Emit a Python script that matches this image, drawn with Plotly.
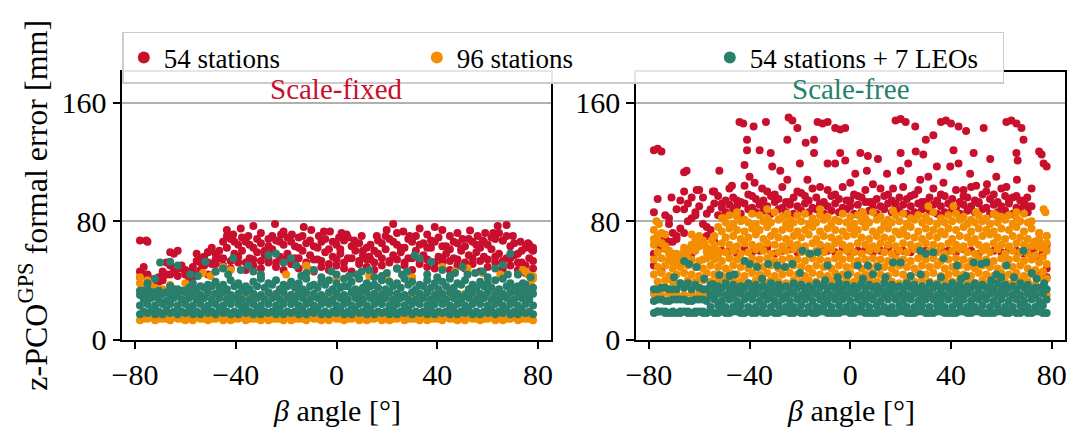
import plotly.graph_objects as go

# beta angle sampling (two interleaved grids)
BETA_A = [-78, -75, -72, -69, -66, -63, -60, -57, -54, -51,
          -48, -45, -42, -39, -36, -33, -30, -27, -24, -21,
          -18, -15, -12, -9, -6, -3, 0, 3, 6, 9,
          12, 15, 18, 21, 24, 27, 30, 33, 36, 39,
          42, 45, 48, 51, 54, 57, 60, 63, 66, 69,
          72, 75, 78]
BETA_B = [-76.5, -73.5, -70.5, -67.5, -64.5, -61.5, -58.5, -55.5, -52.5, -49.5,
          -46.5, -43.5, -40.5, -37.5, -34.5, -31.5, -28.5, -25.5, -22.5, -19.5,
          -16.5, -13.5, -10.5, -7.5, -4.5, -1.5, 1.5, 4.5, 7.5, 10.5,
          13.5, 16.5, 19.5, 22.5, 25.5, 28.5, 31.5, 34.5, 37.5, 40.5,
          43.5, 46.5, 49.5, 52.5, 55.5, 58.5, 61.5, 64.5, 67.5, 70.5,
          73.5, 76.5]

# ---------------- Scale-fixed ----------------
FIX_RED_1 = [46, 43, 38, 40, 44, 48, 45, 42, 47, 44,
             46, 50, 48, 52, 47, 50, 48, 52, 49, 47,
             51, 48, 50, 46, 49, 47, 50, 48, 46, 51,
             49, 47, 50, 52, 48, 50, 47, 51, 49, 48,
             52, 47, 50, 48, 51, 46, 49, 52, 48, 50,
             47, 45, 48]
FIX_RED_2 = [49, 40, 39, 52, 58, 50, 41, 53, 56, 51,
             55, 62, 58, 60, 55, 59, 57, 61, 56, 58,
             55, 60, 57, 54, 59, 56, 58, 55, 60, 57,
             54, 58, 61, 57, 59, 55, 60, 57, 62, 56,
             58, 55, 60, 57, 59, 56, 61, 58, 55, 57,
             52, 55]
FIX_RED_3 = [67, 66, 40, 42, 59, 60, 44, 46, 52, 59,
             54, 66, 68, 64, 66, 62, 65, 63, 67, 64,
             66, 62, 65, 63, 66, 61, 64, 67, 63, 65,
             62, 60, 65, 68, 64, 62, 66, 64, 62, 66,
             63, 61, 65, 63, 66, 62, 64, 68, 67, 63,
             58, 62, 60]
FIX_RED_4 = [44, 40, 42, 44, 46, 48, 45, 58, 50, 62,
             60, 70, 66, 69, 64, 68, 60, 70, 66, 69,
             63, 70, 67, 62, 68, 66, 61, 69, 65, 60,
             64, 67, 70, 66, 62, 68, 70, 65, 67, 69,
             63, 66, 61, 68, 64, 66, 69, 72, 70, 65,
             60, 64]
FIX_RED_5 = [42, 44, 41, 46, 50, 43, 47, 49, 55, 52,
             51, 55, 53, 56, 52, 54, 53, 55, 52, 54,
             53, 55, 52, 54, 53, 51, 54, 52, 55, 53,
             54, 52, 55, 53, 54, 52, 55, 53, 54, 52,
             55, 53, 54, 52, 55, 53, 54, 56, 53, 55,
             52, 50, 53]
FIX_RED_SC_BETA = [-75.5, -43.5, -41, -38, -35, -33, -30, -24.4, -22, -21,
                   -17.7, -15, -13, -10, -7, -5, -2.6, 1, 4, 7,
                   10, 13, 16, 19.9, 22.5, 24, 26.5, 29, 33, 36,
                   39, 42, 45, 48, 50, 53, 56, 59, 62.2, 64,
                   67.5, 66, 70, 73, 76, 77.4, 78, -48, -51, -27,
                   2, 30, 58]
FIX_RED_SC_VAL = [67, 74, 71, 75, 70, 76.7, 72, 78, 71, 73,
                  71, 69, 76, 74, 70, 73, 73, 69, 71, 67,
                  70, 56, 70, 74, 78, 72, 73, 70, 75, 71,
                  76, 74, 70, 72, 68, 73.6, 70, 72, 72, 76.7,
                  77.4, 67, 70, 66, 65, 61, 62, 58, 59, 68,
                  72, 68, 67]

FIX_ORANGE_1 = [13, 14, 13, 14, 13, 14, 13, 13, 14, 13,
                14, 13, 13, 14, 13, 14, 13, 13, 14, 13,
                13, 14, 13, 14, 13, 13, 14, 13, 14, 13,
                13, 14, 13, 13, 14, 13, 14, 13, 13, 14,
                13, 14, 13, 13, 14, 13, 14, 13, 13, 14,
                13, 14, 13]
FIX_ORANGE_2 = [14, 15, 14, 14, 15, 14, 14, 15, 14, 14,
                15, 14, 14, 15, 14, 14, 15, 14, 14, 15,
                14, 14, 15, 14, 14, 15, 14, 14, 15, 14,
                14, 15, 14, 14, 15, 14, 14, 15, 14, 14,
                15, 14, 14, 15, 14, 14, 15, 14, 14, 15,
                14, 14]
FIX_ORANGE_3 = [38, 40, 35, 33, 36, 30, 28, 31, 29, 30,
                31, 29, 30, 28, 31, 30, 29, 31, 30, 28,
                30, 31, 29, 30, 28, 31, 30, 29, 31, 30,
                29, 30, 31, 28, 30, 29, 31, 30, 28, 30,
                31, 29, 30, 31, 28, 30, 29, 31, 30, 29,
                44, 46, 43]
FIX_ORANGE_SC_BETA = [-78, -76.5, -77, -74, -69, -66, -60, -53, -50, -45,
                      -42, -30, -20, -12, -10, 0, 13, 20, 30, 42,
                      47, 52, 58, 65, 74, 76, 78, 77, 75]
FIX_ORANGE_SC_VAL = [42, 36, 30, 38, 34, 37, 38, 45, 43, 49,
                     47, 42, 44, 50, 47, 41, 43, 41, 42, 49,
                     46, 48, 45, 44, 47, 44, 41, 38, 36]

FIX_TEAL_1 = [17, 18, 17, 17, 18, 17, 18, 17, 17, 18,
              17, 18, 17, 17, 18, 17, 17, 18, 17, 17,
              18, 17, 17, 18, 17, 17, 18, 17, 17, 18,
              17, 17, 18, 17, 17, 18, 17, 18, 17, 17,
              18, 17, 17, 18, 17, 17, 18, 17, 18, 17,
              17, 18, 17]
FIX_TEAL_2 = [19, 20, 19, 20, 19, 19, 20, 19, 20, 19,
              20, 19, 19, 20, 19, 20, 19, 19, 20, 19,
              19, 20, 19, 20, 19, 19, 20, 19, 20, 19,
              20, 19, 19, 20, 19, 20, 19, 19, 20, 19,
              19, 20, 19, 20, 19, 19, 20, 19, 20, 19,
              20, 19]
FIX_TEAL_3 = [23, 24, 23, 24, 24, 23, 24, 23, 24, 23,
              24, 23, 24, 24, 23, 24, 23, 24, 23, 24,
              24, 23, 24, 23, 24, 24, 23, 24, 23, 24,
              23, 24, 24, 23, 24, 23, 24, 24, 23, 24,
              24, 23, 24, 23, 24, 24, 23, 24, 23, 24,
              23, 24, 23]
FIX_TEAL_4 = [27, 28, 27, 26, 28, 27, 28, 27, 28, 27,
              28, 27, 28, 27, 27, 28, 27, 28, 27, 28,
              27, 28, 27, 28, 27, 27, 28, 27, 28, 27,
              28, 27, 28, 27, 28, 27, 27, 28, 27, 28,
              27, 28, 27, 28, 27, 28, 27, 27, 28, 27,
              28, 27]
FIX_TEAL_5 = [30, 29, 30, 31, 30, 31, 32, 31, 30, 32,
              31, 32, 30, 31, 32, 31, 30, 32, 31, 32,
              30, 31, 32, 31, 30, 32, 31, 30, 32, 31,
              32, 31, 30, 32, 31, 30, 32, 31, 32, 30,
              31, 32, 31, 30, 32, 31, 32, 30, 31, 32,
              31, 30, 31]
FIX_TEAL_6 = [33, 32, 33, 32, 34, 33, 35, 34, 35, 36,
              35, 34, 36, 35, 34, 36, 35, 37, 34, 36,
              35, 34, 36, 35, 37, 34, 35, 36, 34, 35,
              36, 35, 34, 36, 35, 37, 34, 36, 35, 34,
              36, 35, 37, 34, 35, 36, 35, 34, 36, 35,
              34, 33]
FIX_TEAL_7 = [33, 34, 32, 31, 36, 34, 33, 38, 36, 37,
              39, 37, 40, 38, 36, 39, 41, 38, 40, 37,
              39, 38, 41, 37, 39, 40, 38, 36, 39, 41,
              38, 37, 40, 39, 38, 41, 39, 37, 40, 38,
              39, 41, 38, 40, 37, 39, 38, 40, 41, 38,
              36, 37, 35]
FIX_TEAL_SC_BETA = [-75, -72, -70, -66, -63, -58, -52, -48, -45, -41,
                    -38, -35, -30, -27, -24, -21, -18, -16, -12, -9,
                    -6, 0, 5, 10, 15, 20, 24, 26, 31, 33,
                    37.6, 42, 47, 50, 52, 58, 63, 66, 69, 72,
                    74, 77, -55, -43, -33, -14, -2, 3, 8, 13,
                    18, 28, 36, 40, 45, 55, 60, 68]
FIX_TEAL_SC_VAL = [38, 41, 52, 52.6, 50, 44, 52.6, 46, 48, 55,
                   47, 50, 44, 57, 58, 52, 55, 50, 45, 47,
                   42, 44, 43, 46, 42, 45, 48, 44, 57, 55,
                   52.6, 47, 45, 49, 44, 46, 48, 50.4, 58, 44,
                   38, 42, 43, 44, 46, 43, 46, 41, 44, 47,
                   43, 46, 44, 42, 43, 45, 42, 44]

# ---------------- Scale-free ----------------
FREE_RED_1 = [50, 46, 66, 68, 72, 58, 65, 70, 66, 60,
              60, 58, 61, 59, 60, 62, 58, 60, 61, 59,
              60, 58, 61, 60, 59, 62, 58, 60, 61, 59,
              60, 62, 58, 60, 59, 61, 60, 58, 62, 60,
              59, 61, 60, 58, 62, 60, 59, 61, 60, 58,
              62, 55, 48]
FREE_RED_2 = [95, 68, 72, 75, 80, 84, 78, 74, 84, 86,
              87, 85, 88, 86, 87, 85, 88, 86, 85, 87,
              86, 88, 85, 87, 86, 88, 85, 86, 87, 85,
              88, 86, 87, 85, 86, 88, 87, 85, 86, 88,
              85, 87, 86, 88, 85, 86, 87, 85, 88, 86,
              66, 60]
FREE_RED_3 = [86, 62, 78, 70, 88, 82, 90, 76, 92, 89,
              91, 90, 92, 89, 91, 90, 93, 89, 91, 90,
              92, 89, 91, 90, 92, 89, 90, 91, 93, 89,
              90, 92, 89, 91, 90, 92, 89, 91, 90, 92,
              89, 91, 90, 92, 89, 91, 90, 93, 89, 91,
              90, 66, 64]
FREE_RED_4 = [64, 84, 66, 94, 92, 86, 96, 88, 97, 94,
              96, 93, 98, 95, 94, 97, 95, 93, 96, 99,
              94, 96, 93, 97, 95, 94, 98, 96, 93, 95,
              97, 94, 96, 95, 98, 93, 96, 94, 97, 95,
              93, 96, 94, 98, 95, 93, 97, 96, 94, 90,
              62, 58]
FREE_RED_5 = [58, 70, 82, 88, 100, 96, 101, 85, 100, 92,
              102, 94, 104, 97, 92, 100, 98, 103, 93, 100,
              97, 102, 92, 101, 98, 103, 94, 97, 101, 93,
              102, 98, 92, 103, 97, 101, 93, 102, 98, 92,
              101, 97, 103, 93, 100, 98, 102, 92, 97, 94,
              60, 44, 42]
FREE_RED_SC_BETA = [-44, -42.5, -38.4, -33.5, -24.5, -23, -21, -13, -11, -9,
                    -6, -4, -2, 18, 20, 22, 25.8, 36, 38, 40,
                    43, 46, 53, 62, 64, 66, 68, 68.8,
                    -78, -76.5, -75, -41, -41, -36, -31.6, -25, -17.7, -14.4,
                    -14.4, -4, 4, 7, 11, 20, 26, 29, 30, 33,
                    41, 49, 55.6, 66, 66.5, 75, 76, 76.8, 78,
                    -65, -66, -61, -54.6, -52, -42, -40, -38, -31, -27.8,
                    -25, -20, -17, -9, -6, -2, 2, 6.6, 9, 14.6,
                    20, 23, 27.8, 31, 34.4, 37, 39.7, 43, 47.6, 50,
                    54.3, 58, 62, 66.2, 70.3, 72, -47, -35, -12, 0,
                    17, 45, -71]
FREE_RED_SC_VAL = [147, 146, 144, 147, 150, 148, 143, 147, 146, 147,
                   143, 142, 143, 148, 149, 147, 144, 147, 148, 146,
                   144, 141, 143, 147, 148, 146, 143, 135,
                   128, 129, 127, 135, 128, 128, 126, 135, 133, 135,
                   126, 126, 126, 124, 122, 126, 127, 125, 135, 138,
                   128, 126, 122, 126, 121, 127, 125, 119, 117,
                   114, 113, 101, 100, 114, 118, 110, 106, 117, 114,
                   108, 119, 108, 119, 119, 121, 112, 114, 105, 112,
                   114, 119, 108, 110, 117, 106, 117, 119, 112, 104,
                   105, 110, 103, 108, 96, 102, 104, 102, 103, 106,
                   102, 101, 96]

FREE_ORANGE_1 = [31, 30, 31, 31, 30, 31, 31, 30, 31, 31,
                 30, 31, 31, 30, 31, 31, 30, 31, 31, 30,
                 31, 31, 30, 31, 31, 30, 31, 31, 30, 31,
                 31, 30, 31, 31, 30, 31, 31, 30, 31, 31,
                 30, 31, 31, 30, 31, 31, 30, 31, 31, 30,
                 31, 31, 30]
FREE_ORANGE_2 = [39, 40, 39, 38, 40, 39, 40, 39, 40, 39,
                 40, 39, 38, 40, 39, 40, 39, 38, 40, 39,
                 40, 39, 38, 40, 39, 40, 39, 38, 40, 39,
                 40, 39, 38, 40, 39, 40, 39, 38, 40, 39,
                 40, 39, 38, 40, 39, 40, 39, 38, 40, 39,
                 37, 36]
FREE_ORANGE_3 = [44, 45, 43, 44, 45, 44, 43, 45, 44, 43,
                 45, 44, 43, 45, 44, 45, 43, 44, 45, 44,
                 43, 45, 44, 43, 45, 44, 45, 43, 44, 45,
                 44, 43, 45, 44, 43, 45, 44, 45, 43, 44,
                 45, 44, 43, 45, 44, 43, 45, 44, 45, 43,
                 44, 42, 41]
FREE_ORANGE_4 = [49, 50, 48, 49, 50, 49, 48, 50, 49, 48,
                 50, 49, 48, 50, 49, 50, 48, 49, 50, 49,
                 48, 50, 49, 48, 50, 49, 50, 48, 49, 50,
                 49, 48, 50, 49, 48, 50, 49, 50, 48, 49,
                 50, 49, 48, 50, 49, 48, 50, 49, 50, 48,
                 47, 46]
FREE_ORANGE_5 = [54, 55, 53, 54, 55, 54, 53, 55, 54, 53,
                 55, 54, 53, 55, 54, 55, 53, 54, 55, 54,
                 53, 55, 54, 53, 55, 54, 55, 53, 54, 55,
                 54, 53, 55, 54, 53, 55, 54, 55, 53, 54,
                 55, 54, 53, 55, 54, 53, 55, 54, 55, 53,
                 54, 52, 51]
FREE_ORANGE_6 = [59, 61, 58, 57, 59, 60, 54, 58, 60, 59,
                 60, 58, 59, 61, 60, 58, 59, 60, 61, 59,
                 58, 60, 59, 61, 58, 60, 59, 58, 60, 61,
                 59, 58, 60, 59, 61, 58, 60, 59, 58, 60,
                 61, 59, 58, 60, 59, 61, 58, 60, 59, 58,
                 57, 56]
FREE_ORANGE_7 = [64, 65, 60, 58, 62, 64, 63, 62, 64, 65,
                 64, 63, 65, 64, 63, 65, 64, 63, 65, 64,
                 63, 65, 64, 63, 65, 64, 63, 65, 64, 63,
                 65, 64, 63, 65, 64, 63, 65, 64, 63, 65,
                 64, 63, 65, 64, 63, 65, 64, 63, 65, 64,
                 63, 62, 60]
FREE_ORANGE_8 = [70, 71, 56, 55, 59, 68, 67, 60, 57, 69,
                 70, 68, 69, 71, 68, 70, 69, 68, 70, 69,
                 71, 68, 70, 69, 68, 70, 71, 69, 68, 70,
                 69, 68, 71, 70, 69, 68, 70, 69, 71, 68,
                 70, 69, 68, 70, 71, 69, 68, 70, 69, 68,
                 66, 64]
FREE_ORANGE_9 = [74, 72, 58, 54, 57, 71, 70, 60, 62, 73,
                 75, 74, 73, 75, 74, 76, 73, 74, 75, 73,
                 74, 76, 73, 75, 74, 73, 75, 74, 76, 73,
                 74, 75, 73, 74, 76, 73, 75, 74, 73, 75,
                 74, 76, 73, 75, 74, 73, 75, 74, 76, 73,
                 75, 68, 65]
FREE_ORANGE_10 = [66, 63, 52, 53, 61, 65, 64, 58, 76, 79,
                  78, 80, 79, 78, 80, 79, 81, 78, 79, 80,
                  78, 79, 81, 78, 80, 79, 78, 80, 79, 81,
                  78, 79, 80, 78, 81, 79, 80, 78, 79, 80,
                  81, 78, 79, 80, 78, 79, 81, 78, 80, 79,
                  64, 62]
FREE_ORANGE_11 = [68, 65, 54, 52, 60, 62, 66, 59, 70, 82,
                  84, 83, 81, 85, 84, 82, 86, 83, 81, 84,
                  85, 82, 84, 83, 81, 85, 83, 84, 82, 86,
                  83, 81, 84, 85, 82, 84, 83, 86, 82, 84,
                  85, 83, 81, 84, 82, 85, 83, 84, 82, 85,
                  80, 72, 70]
FREE_ORANGE_SC_BETA = [-77, -76, -45, -33, -25, -12, 5, 17, 31, 41,
                       50, 58, 66, 76.8, 77.5, -55, -58, -50, 78, 75]
FREE_ORANGE_SC_VAL = [80, 78, 86, 88, 85, 88, 86, 87, 90, 90,
                      86, 84, 86, 88, 86, 67, 65, 82, 70, 72]

FREE_TEAL_1 = [18, 19, 18, 18, 19, 18, 19, 18, 18, 19,
               18, 19, 18, 18, 19, 18, 18, 19, 18, 19,
               18, 18, 19, 18, 18, 19, 18, 19, 18, 18,
               19, 18, 18, 19, 18, 19, 18, 18, 19, 18,
               18, 19, 18, 19, 18, 18, 19, 18, 18, 19,
               18, 19, 18]
FREE_TEAL_2 = [19, 18, 19, 18, 18, 19, 18, 19, 18, 18,
               19, 18, 19, 18, 18, 19, 18, 19, 18, 18,
               19, 18, 19, 18, 18, 19, 18, 19, 18, 18,
               19, 18, 19, 18, 18, 19, 18, 19, 18, 18,
               19, 18, 19, 18, 18, 19, 18, 19, 18, 18,
               19, 18]
FREE_TEAL_3 = [19, 19, 18, 19, 19, 18, 19, 22, 23, 22,
               22, 23, 22, 22, 23, 22, 23, 22, 22, 23,
               22, 22, 23, 22, 23, 22, 22, 23, 22, 23,
               22, 22, 23, 22, 22, 23, 22, 23, 22, 22,
               23, 22, 22, 23, 22, 23, 22, 22, 23, 22,
               22, 23]
FREE_TEAL_4 = [26, 27, 26, 27, 27, 26, 27, 26, 27, 26,
               27, 26, 27, 27, 26, 27, 26, 27, 26, 27,
               27, 26, 27, 26, 27, 27, 26, 27, 26, 27,
               26, 27, 27, 26, 27, 26, 27, 27, 26, 27,
               26, 27, 26, 27, 27, 26, 27, 26, 27, 26,
               27, 26, 27]
FREE_TEAL_5 = [27, 26, 27, 27, 26, 27, 27, 30, 31, 30,
               30, 31, 30, 31, 30, 30, 31, 30, 31, 30,
               30, 31, 30, 30, 31, 30, 31, 30, 30, 31,
               30, 31, 30, 30, 31, 30, 31, 30, 30, 31,
               30, 31, 30, 30, 31, 30, 31, 30, 30, 31,
               30, 31]
FREE_TEAL_6 = [34, 35, 34, 34, 35, 34, 35, 34, 34, 35,
               34, 34, 35, 34, 35, 34, 34, 35, 34, 35,
               34, 34, 35, 34, 35, 34, 34, 35, 34, 35,
               34, 34, 35, 34, 35, 34, 34, 35, 34, 35,
               34, 34, 35, 34, 35, 34, 34, 35, 34, 35,
               34, 35, 34]
FREE_TEAL_7 = [34, 35, 34, 38, 38, 37, 34, 37, 36, 38,
               37, 36, 38, 37, 36, 38, 37, 36, 38, 37,
               36, 38, 37, 36, 38, 37, 36, 38, 37, 36,
               38, 37, 36, 38, 37, 36, 38, 37, 36, 38,
               37, 36, 38, 37, 36, 38, 37, 36, 38, 37,
               35, 34]
FREE_TEAL_SC_BETA = [-66, -64, -61, -54.6, -52, -48, -46, -42, -40, -37,
                     -32.6, -29, -26, -23, -19, -16, -13, -9, -5, -1,
                     3, 7, 11, 14, 17, 20, 24, 27.8, 30, 33,
                     37, 42.4, 46, 49, 52, 54, 58, 62, 65, 68.8,
                     72, 77, -70, -58, -35, -20, -10, 5, 9, 28,
                     36, 44, 56, 60, 74]
FREE_TEAL_SC_VAL = [53, 51, 49, 37.3, 43.6, 43, 44, 53, 51, 49,
                    51, 50, 49, 51, 60, 58, 59, 50, 42, 43.6,
                    50, 50, 49, 42, 52, 52, 43, 60, 58, 59,
                    55, 50, 43, 52, 51, 52, 44, 50, 42, 60,
                    45, 38, 42, 41, 41, 45, 40, 41, 44, 44,
                    42, 41, 40, 42, 41]

RED = "#C8102E"
ORANGE = "#F28E00"
TEAL = "#287F6C"
FONT = "Liberation Serif"


def stack(rows, grids, sc_beta, sc_val):
    xs, ys = [], []
    for r, g in zip(rows, grids):
        xs += g[:len(r)]
        ys += r[:len(g)]
    return xs + sc_beta, ys + sc_val


A, B = BETA_A, BETA_B
panels = [
    [("54 stations", RED, stack([FIX_RED_1, FIX_RED_5, FIX_RED_2, FIX_RED_3, FIX_RED_4], [A, A, B, A, B],
                                FIX_RED_SC_BETA, FIX_RED_SC_VAL)),
     ("96 stations", ORANGE, stack([FIX_ORANGE_1, FIX_ORANGE_2, FIX_ORANGE_3], [A, B, A], FIX_ORANGE_SC_BETA, FIX_ORANGE_SC_VAL)),
     ("54 stations + 7 LEOs", TEAL, stack([FIX_TEAL_1, FIX_TEAL_2, FIX_TEAL_3, FIX_TEAL_4, FIX_TEAL_5, FIX_TEAL_6, FIX_TEAL_7],
                                           [A, B, A, B, A, B, A], FIX_TEAL_SC_BETA, FIX_TEAL_SC_VAL))],
    [("54 stations", RED, stack([FREE_RED_1, FREE_RED_2, FREE_RED_3, FREE_RED_4, FREE_RED_5], [A, B, A, B, A],
                                FREE_RED_SC_BETA, FREE_RED_SC_VAL)),
     ("96 stations", ORANGE, stack([FREE_ORANGE_1, FREE_ORANGE_2, FREE_ORANGE_3, FREE_ORANGE_4, FREE_ORANGE_5, FREE_ORANGE_6,
                                    FREE_ORANGE_7, FREE_ORANGE_8, FREE_ORANGE_9, FREE_ORANGE_10, FREE_ORANGE_11],
                                   [A, B, A, B, A, B, A, B, A, B, A], FREE_ORANGE_SC_BETA, FREE_ORANGE_SC_VAL)),
     ("54 stations + 7 LEOs", TEAL, stack([FREE_TEAL_1, FREE_TEAL_2, FREE_TEAL_3, FREE_TEAL_4, FREE_TEAL_5, FREE_TEAL_6, FREE_TEAL_7],
                                           [A, B, B, A, B, A, B], FREE_TEAL_SC_BETA, FREE_TEAL_SC_VAL))],
]

fig = go.Figure()
for p, traces in enumerate(panels):
    xa = 'x' if p == 0 else 'x2'
    ya = 'y' if p == 0 else 'y2'
    for name, color, (xs, ys) in traces:
        fig.add_trace(go.Scatter(x=xs, y=ys, mode='markers', name=name, xaxis=xa, yaxis=ya,
                                 showlegend=(p == 0),
                                 marker=dict(color=color, size=8, line=dict(width=0))))

axis_common = dict(showline=True, mirror=True, linecolor='black', linewidth=1.5,
                   ticks='outside', ticklen=8, tickwidth=1.5, tickcolor='black',
                   tickfont=dict(family=FONT, size=30, color='black'), zeroline=False,
                   automargin=False)
xticks = dict(tickvals=[-80, -40, 0, 40, 80], ticktext=['\u221280', '\u221240', '0', '40', '80'], showgrid=False)
yticks = dict(tickvals=[0, 80, 160], showgrid=True, gridcolor='#b0b0b0', gridwidth=1.5, range=[0, 181])

fig.update_layout(
    width=1072, height=432,
    margin=dict(l=0, r=0, t=0, b=0, autoexpand=False),
    paper_bgcolor='white', plot_bgcolor='white',
    font=dict(family=FONT, size=30, color='black'),
    xaxis=dict(domain=[0.1141, 0.5137], range=[-85, 85], anchor='y', **xticks, **axis_common),
    xaxis2=dict(domain=[0.5933, 0.9935], range=[-85.1, 85.3], anchor='y2', **xticks, **axis_common),
    yaxis=dict(domain=[0.2141, 0.834], anchor='x', **yticks, **axis_common),
    yaxis2=dict(domain=[0.2141, 0.834], anchor='x2', **yticks, **axis_common),
    legend=dict(orientation='h', x=0.1141, y=0.926, xanchor='left', yanchor='top',
                bgcolor='rgba(255,255,255,0.9)', bordercolor='#cccccc', borderwidth=1.5,
                font=dict(family=FONT, size=27, color='black'),
                entrywidth=248, entrywidthmode='pixels', itemsizing='constant'),
    showlegend=True,
    annotations=[
        dict(text='Scale-fixed', x=0.5, xref='x domain', y=0.794, yref='paper', showarrow=False,
             font=dict(family=FONT, size=29, color=RED), yanchor='middle'),
        dict(text='Scale-free', x=0.5, xref='x2 domain', y=0.794, yref='paper', showarrow=False,
             font=dict(family=FONT, size=29, color=TEAL), yanchor='middle'),
        dict(text='z-PCO<sup>GPS</sup> formal error [mm]', x=0.0308, y=0.524, xref='paper', yref='paper',
             textangle=-90, showarrow=False, font=dict(family=FONT, size=32, color='black'),
             xanchor='center', yanchor='middle'),
        dict(text='<i>\u03b2</i> angle [\u00b0]', x=0.5, xref='x domain', y=0.0509, yref='paper',
             showarrow=False, font=dict(family=FONT, size=30, color='black'), yanchor='middle'),
        dict(text='<i>\u03b2</i> angle [\u00b0]', x=0.5, xref='x2 domain', y=0.0509, yref='paper',
             showarrow=False, font=dict(family=FONT, size=30, color='black'), yanchor='middle'),
    ],
)

# drop the default page margin so the 1072x432 figure fills the window exactly
fig.write_html("out.html", config={'displayModeBar': False},
               post_script="document.body.style.margin='0';")
